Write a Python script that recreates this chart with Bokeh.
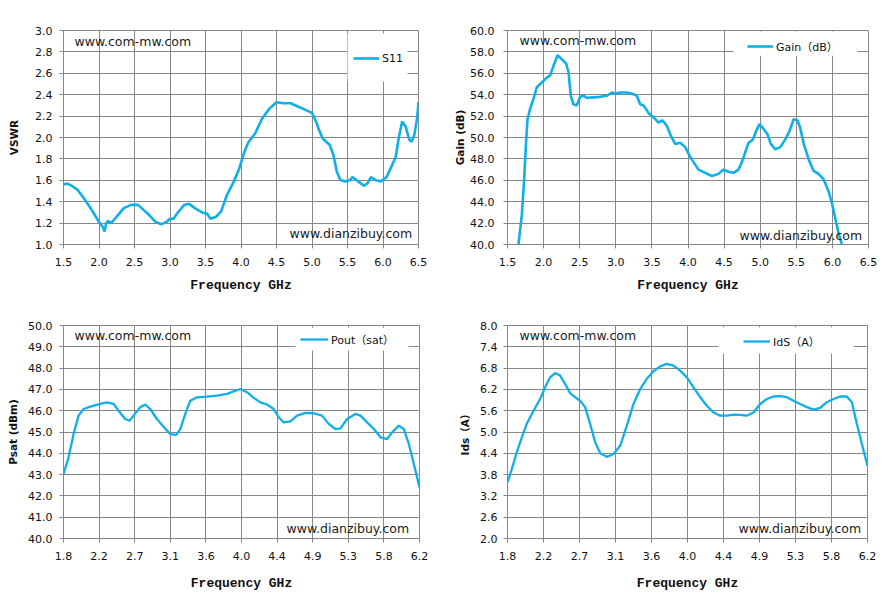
import numpy as np
from bokeh.plotting import figure
from bokeh.layouts import column, row
from bokeh.models import (
    Range1d,
    FixedTicker,
    NumeralTickFormatter,
    Legend,
    LegendItem,
    Label,
    BoxAnnotation,
)
from bokeh.embed import file_html
from bokeh.resources import INLINE

# --- data -----------------------------------------------------------------
s11_freq = [1.50, 1.55, 1.60, 1.70, 1.80, 1.90, 2.00, 2.05, 2.08, 2.10, 2.13, 2.17,
            2.25, 2.35, 2.45, 2.55, 2.60, 2.70, 2.80, 2.88, 2.95, 3.00, 3.05, 3.10,
            3.20, 3.27, 3.35, 3.45, 3.52, 3.57, 3.65, 3.72, 3.80, 3.90, 3.97, 4.05,
            4.10, 4.20, 4.30, 4.40, 4.50, 4.60, 4.70, 4.80, 4.90, 5.00, 5.05, 5.10,
            5.15, 5.25, 5.30, 5.35, 5.40, 5.47, 5.53, 5.57, 5.65, 5.73, 5.78, 5.83,
            5.90, 5.97, 6.05, 6.12, 6.18, 6.22, 6.27, 6.32, 6.37, 6.40, 6.44, 6.48, 6.50]
s11_vswr = [1.56, 1.57, 1.555, 1.51, 1.42, 1.32, 1.21, 1.165, 1.12, 1.20, 1.22, 1.20,
            1.26, 1.34, 1.37, 1.37, 1.34, 1.28, 1.21, 1.19, 1.21, 1.24, 1.24, 1.29,
            1.37, 1.38, 1.34, 1.30, 1.29, 1.24, 1.26, 1.31, 1.46, 1.59, 1.70, 1.87,
            1.95, 2.04, 2.18, 2.27, 2.33, 2.32, 2.32, 2.29, 2.26, 2.23, 2.16, 2.07,
            1.99, 1.93, 1.84, 1.68, 1.60, 1.59, 1.60, 1.63, 1.59, 1.55, 1.57, 1.63,
            1.60, 1.59, 1.63, 1.73, 1.82, 1.99, 2.15, 2.10, 1.98, 1.96, 2.02, 2.18, 2.33]

gain_freq = [1.652, 1.699, 1.731, 1.759, 1.777, 1.814, 1.860, 1.906, 1.999, 2.045,
             2.091, 2.137, 2.193, 2.253, 2.313, 2.345, 2.377, 2.414, 2.460, 2.506,
             2.553, 2.599, 2.691, 2.783, 2.876, 2.945, 2.991, 3.060, 3.153, 3.222,
             3.291, 3.337, 3.384, 3.453, 3.522, 3.591, 3.647, 3.707, 3.753, 3.822,
             3.892, 3.961, 4.021, 4.076, 4.145, 4.238, 4.330, 4.422, 4.492, 4.561,
             4.630, 4.699, 4.746, 4.792, 4.838, 4.898, 4.944, 4.990, 5.046, 5.101,
             5.147, 5.207, 5.277, 5.346, 5.406, 5.461, 5.517, 5.554, 5.600, 5.669,
             5.738, 5.807, 5.877, 5.946, 5.992, 6.038, 6.084, 6.131]
gain_db = [40.0, 42.8, 46.1, 49.8, 51.7, 52.7, 53.6, 54.7, 55.3, 55.6,
           55.8, 56.7, 57.7, 57.3, 56.9, 56.1, 53.9, 53.1, 53.0, 53.8,
           53.9, 53.7, 53.75, 53.8, 53.9, 54.2, 54.1, 54.2, 54.2, 54.1,
           53.9, 53.1, 53.0, 52.3, 51.9, 51.4, 51.6, 51.1, 50.3, 49.4,
           49.5, 49.1, 48.3, 47.7, 47.0, 46.7, 46.4, 46.6, 47.0, 46.8,
           46.7, 47.0, 47.7, 48.6, 49.5, 49.8, 50.6, 51.25, 50.8, 50.3,
           49.4, 48.9, 49.1, 49.8, 50.6, 51.7, 51.6, 50.9, 49.5, 48.0,
           46.9, 46.6, 46.1, 45.0, 43.9, 42.5, 41.1, 40.0]

pout_freq = [1.800, 1.862, 1.924, 1.986, 2.047, 2.130, 2.254, 2.336, 2.419, 2.480,
             2.563, 2.616, 2.666, 2.748, 2.810, 2.872, 2.955, 3.037, 3.120, 3.194,
             3.243, 3.305, 3.367, 3.449, 3.573, 3.697, 3.821, 3.903, 3.986, 4.068,
             4.151, 4.233, 4.315, 4.398, 4.460, 4.522, 4.604, 4.687, 4.790, 4.893,
             4.996, 5.078, 5.161, 5.223, 5.305, 5.408, 5.470, 5.553, 5.635, 5.718,
             5.800, 5.862, 5.944, 6.006, 6.068, 6.130, 6.200]
pout_dbm = [43.03, 43.8, 44.9, 45.77, 46.08, 46.19, 46.32, 46.39, 46.32, 46.0,
            45.61, 45.53, 45.77, 46.16, 46.29, 46.08, 45.61, 45.25, 44.9, 44.86,
            45.14, 45.85, 46.47, 46.63, 46.66, 46.71, 46.79, 46.91, 47.02, 46.87,
            46.6, 46.39, 46.29, 46.08, 45.69, 45.45, 45.5, 45.77, 45.9, 45.88,
            45.77, 45.38, 45.14, 45.17, 45.61, 45.85, 45.77, 45.45, 45.14, 44.75,
            44.67, 44.98, 45.30, 45.14, 44.44, 43.5, 42.4]

ids_freq = [1.800, 1.853, 1.914, 1.975, 2.036, 2.118, 2.199, 2.260, 2.321, 2.383,
            2.444, 2.505, 2.566, 2.627, 2.688, 2.749, 2.810, 2.871, 2.933, 3.014,
            3.096, 3.177, 3.259, 3.340, 3.422, 3.503, 3.584, 3.666, 3.747, 3.829,
            3.910, 3.992, 4.073, 4.155, 4.236, 4.318, 4.399, 4.481, 4.562, 4.644,
            4.725, 4.807, 4.888, 4.970, 5.051, 5.133, 5.214, 5.296, 5.377, 5.459,
            5.540, 5.622, 5.703, 5.785, 5.866, 5.947, 6.009, 6.070, 6.131, 6.200]
ids_amp = [3.58, 3.96, 4.43, 4.85, 5.23, 5.60, 5.93, 6.26, 6.54, 6.66,
           6.59, 6.35, 6.09, 5.98, 5.88, 5.70, 5.23, 4.71, 4.40, 4.30,
           4.38, 4.61, 5.18, 5.79, 6.21, 6.50, 6.71, 6.85, 6.92, 6.87,
           6.73, 6.54, 6.26, 5.98, 5.74, 5.55, 5.46, 5.46, 5.49, 5.48,
           5.46, 5.55, 5.79, 5.93, 6.00, 6.01, 5.98, 5.88, 5.79, 5.70,
           5.63, 5.68, 5.84, 5.93, 6.00, 6.00, 5.84, 5.23, 4.66, 4.05]

LINE = "#0FAFEA"
GRID = "#878787"
CJK = "DejaVu Sans, Noto Sans CJK SC"


def make_panel(freq, vals, width, height, borders, x_lim, y_lim, x_ticks, y_ticks,
               y_label, y_std, x_std, legend_label, legend_loc, glyph_w, legend_box,
               marks, lw):
    left, right, top, bottom = borders
    p = figure(width=width, height=height, output_backend="svg", toolbar_location=None,
               tools="", x_range=Range1d(*x_lim), y_range=Range1d(*y_lim),
               min_border_left=left, min_border_right=right,
               min_border_top=top, min_border_bottom=bottom,
               background_fill_color="white", border_fill_color="white")
    p.outline_line_color = GRID

    p.xaxis.ticker = FixedTicker(ticks=list(x_ticks))
    p.yaxis.ticker = FixedTicker(ticks=list(y_ticks))
    p.xaxis.formatter = NumeralTickFormatter(format="0.0")
    p.yaxis.formatter = NumeralTickFormatter(format="0.0")
    for ax in (p.xaxis[0], p.yaxis[0]):
        ax.axis_line_color = GRID
        ax.major_tick_line_color = GRID
        ax.major_tick_in = 0
        ax.major_tick_out = 4
        ax.minor_tick_line_color = None
        ax.major_label_text_font = "DejaVu Sans"
        ax.major_label_text_font_size = "11px"
        ax.major_label_text_color = "#111111"
    p.yaxis.major_label_standoff = y_std[0]
    p.yaxis.axis_label = y_label
    p.yaxis.axis_label_standoff = y_std[1]
    p.yaxis.axis_label_text_font = CJK
    p.yaxis.axis_label_text_font_size = "10.5px"
    p.yaxis.axis_label_text_font_style = "bold"
    p.yaxis.axis_label_text_color = "#111111"
    p.xaxis.major_label_standoff = x_std[0]
    p.xaxis.axis_label = "Frequency GHz"
    p.xaxis.axis_label_standoff = x_std[1]
    p.xaxis.axis_label_text_font = "Liberation Mono"
    p.xaxis.axis_label_text_font_size = "13px"
    p.xaxis.axis_label_text_font_style = "bold"
    p.xaxis.axis_label_text_color = "#111111"

    p.xgrid.grid_line_color = GRID
    p.ygrid.grid_line_color = GRID

    # white patch behind the legend, hiding the grid there
    bl, br, bb, bt = legend_box
    p.add_layout(BoxAnnotation(left=bl, right=br, bottom=bb, top=bt, fill_color="white",
                               fill_alpha=1.0, line_color=None, level="underlay"))

    r = p.line(freq, vals, line_color=LINE, line_width=lw)

    for (tx, ty, txt) in marks:
        p.add_layout(Label(x=tx, y=ty, text=txt, text_font="DejaVu Sans",
                           text_font_size="12.5px", text_color="#1a1a1a",
                           text_baseline="middle"))

    legend = Legend(items=[LegendItem(label=legend_label, renderers=[r])],
                    location=legend_loc, padding=5, margin=0, spacing=0,
                    glyph_width=glyph_w, glyph_height=20, label_height=20,
                    label_standoff=3, background_fill_alpha=0.0,
                    border_line_color=None, label_text_font=CJK,
                    label_text_font_size="11px", label_text_color="#111111")
    p.add_layout(legend)
    return p


top_x = np.arange(1.5, 6.51, 0.5)
bot_x = np.linspace(1.8, 6.2, 11)

# borders: (left, right, top, bottom); rows align top/bottom borders
p1 = make_panel(s11_freq, s11_vswr, 448, 300, (63, 30, 30, 56), (1.5, 6.5), (1.0, 3.0),
                top_x, np.arange(1.0, 3.01, 0.2), "VSWR", (7, 12), (9, 9),
                "S11", (290, 176), 26, (5.5, 6.345, 2.523, 2.972),
                [(1.655, 2.897, "www.com-mw.com"), (4.683, 1.103, "www.dianzibuy.com")], 2.6)

p2 = make_panel(gain_freq, gain_db, 440, 300, (59, 20, 30, 56), (1.5, 6.5), (40.0, 60.0),
                top_x, np.arange(40.0, 60.1, 2.0), "Gain (dB)", (9, 1), (9, 9),
                "Gain（dB）", (240, 188), 26, (4.63, 6.348, 57.65, 59.9),
                [(1.666, 59.06, "www.com-mw.com"), (4.713, 40.85, "www.dianzibuy.com")], 2.6)

p3 = make_panel(pout_freq, pout_dbm, 448, 294, (63, 29, 25, 56), (1.8, 6.2), (40.0, 50.0),
                bot_x, np.arange(40.0, 50.1, 1.0), "Psat (dBm)", (7, 6), (9, 13),
                "Pout（sat）", (237, 189), 28, (4.667, 6.064, 48.83, 49.9),
                [(1.936, 49.53, "www.com-mw.com"), (4.556, 40.47, "www.dianzibuy.com")], 2.3)

p4 = make_panel(ids_freq, ids_amp, 440, 294, (59, 21, 25, 56), (1.8, 6.2), (2.0, 8.0),
                bot_x, np.arange(2.0, 8.01, 0.6), "Ids（A）", (6, 6), (9, 13),
                "IdS（A）", (236, 187), 27, (4.379, 6.029, 7.21, 7.95),
                [(1.947, 7.72, "www.com-mw.com"), (4.623, 2.28, "www.dianzibuy.com")], 2.3)

layout = column(row(p1, p2), row(p3, p4))

open("out.html", "w").write(file_html(layout, INLINE))
